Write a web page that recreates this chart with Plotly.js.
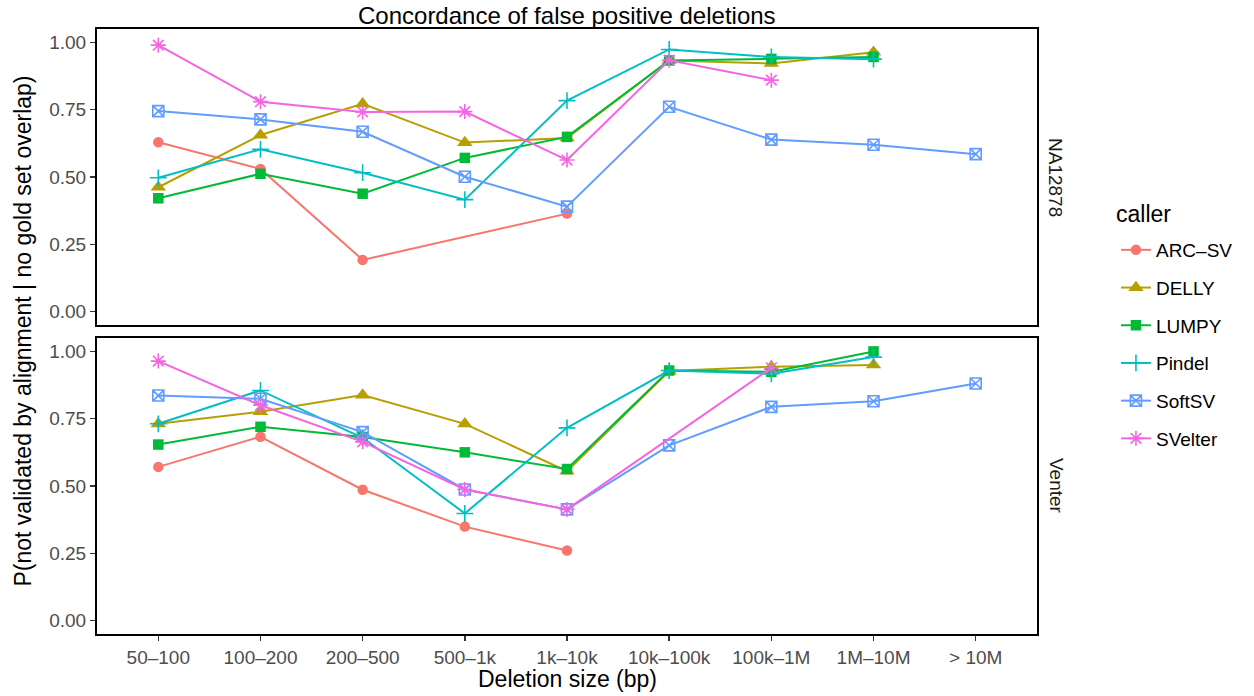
<!DOCTYPE html>
<html>
<head>
<meta charset="utf-8">
<script src="https://cdn.plot.ly/plotly-3.0.1.min.js"></script>
<style>html,body{margin:0;padding:0;background:#fff;}#chart{width:1254px;height:696px;}</style>
</head>
<body>
<div id="chart"></div>
<script>
// Categories (x axis)
const categories = ["50\u2013100","100\u2013200","200\u2013500","500\u20131k","1k\u201310k","10k\u2013100k","100k\u20131M","1M\u201310M","> 10M"];
const callers = ["ARC\u2013SV","DELLY","LUMPY","Pindel","SoftSV","SVelter"];
const yTicks = [0, 0.25, 0.5, 0.75, 1.0];
const yTickLabels = ["0.00","0.25","0.50","0.75","1.00"];
const panels = ["NA12878","Venter"];

// NA12878 panel values
const na_arcsv  = [0.629, 0.530, 0.192, null, 0.364, null, null, null, null];
const na_delly  = [0.462, 0.656, 0.772, 0.628, 0.645, 0.933, 0.922, 0.964, null];
const na_lumpy  = [0.421, 0.512, 0.438, 0.571, 0.649, 0.933, 0.939, 0.946, null];
const na_pindel = [0.497, 0.603, 0.516, 0.416, 0.784, 0.974, 0.946, 0.938, null];
const na_softsv = [0.745, 0.714, 0.668, 0.501, 0.390, 0.761, 0.639, 0.620, 0.585];
const na_svelter= [0.990, 0.780, 0.742, 0.743, 0.563, 0.934, 0.860, null, null];

// Venter panel values
const ve_arcsv  = [0.571, 0.683, 0.486, 0.349, 0.260, null, null, null, null];
const ve_delly  = [0.731, 0.776, 0.838, 0.731, 0.555, 0.927, 0.943, 0.950, null];
const ve_lumpy  = [0.654, 0.720, 0.682, 0.625, 0.563, 0.929, 0.924, 1.000, null];
const ve_pindel = [0.731, 0.855, 0.679, 0.398, 0.716, 0.929, 0.917, 0.979, null];
const ve_softsv = [0.836, 0.824, 0.700, 0.487, 0.413, 0.651, 0.794, 0.815, 0.881];
const ve_svelter= [0.964, 0.800, 0.664, 0.487, 0.413, null, 0.939, null, null];

const naData = [na_arcsv, na_delly, na_lumpy, na_pindel, na_softsv, na_svelter];
const veData = [ve_arcsv, ve_delly, ve_lumpy, ve_pindel, ve_softsv, ve_svelter];

const colors = ["#F8766D","#B79F00","#00BA38","#00BFC4","#619CFF","#F564E3"];
const markers = [
  {symbol:"circle", size:10.5, line:{width:0}},
  {symbol:"triangle-up", size:13.5, line:{width:0}},
  {symbol:"square", size:10.5, line:{width:0}},
  {symbol:"cross-thin-open", size:12, line:{width:1.6}},
  {symbol:"square-x-open", size:11, line:{width:1.6}},
  {symbol:"asterisk-open", size:12.5, line:{width:1.6}}
];

const traces = [];
function addPanel(data, xa, ya, showLeg){
  data.forEach((vals, i) => {
    const m = Object.assign({color: colors[i]}, markers[i]);
    m.line = Object.assign({color: colors[i]}, markers[i].line);
    traces.push({
      type: "scatter", mode: "lines+markers",
      x: categories, y: vals, xaxis: xa, yaxis: ya,
      name: callers[i], legendgroup: callers[i], showlegend: showLeg,
      connectgaps: true,
      line: {color: colors[i], width: 2},
      marker: m,
      hoverinfo: "x+y+name"
    });
  });
}
addPanel(naData, "x", "y", true);
addPanel(veData, "x2", "y2", false);

const tickFont = {family: "Liberation Sans, Arial, sans-serif", size: 19, color: "#4d4d4d"};
const yAxisBase = {
  range: [-0.05, 1.05], tickvals: yTicks, ticktext: yTickLabels,
  showgrid: false, zeroline: false,
  showline: true, mirror: true, linecolor: "#000", linewidth: 2,
  ticks: "outside", ticklen: 5, tickwidth: 1.5, tickcolor: "#333",
  tickfont: tickFont
};
const xAxisBase = {
  type: "category", categoryorder: "array", categoryarray: categories,
  range: [-0.6, 8.6], showgrid: false, zeroline: false,
  showline: true, mirror: true, linecolor: "#000", linewidth: 2,
  tickfont: tickFont
};

const layout = {
  width: 1254, height: 696,
  margin: {l: 97, r: 217, t: 29, b: 62},
  paper_bgcolor: "#fff", plot_bgcolor: "#fff",
  font: {family: "Liberation Sans, Arial, sans-serif", color: "#000"},
  xaxis: Object.assign({}, xAxisBase, {anchor: "y", domain: [0,1], showticklabels: false, ticks: ""}),
  yaxis: Object.assign({}, yAxisBase, {anchor: "x", domain: [0.5107, 1]}),
  xaxis2: Object.assign({}, xAxisBase, {anchor: "y2", domain: [0,1], ticks: "outside", ticklen: 5, tickwidth: 1.5, tickcolor: "#333"}),
  yaxis2: Object.assign({}, yAxisBase, {anchor: "x2", domain: [0, 0.4893]}),
  showlegend: true,
  legend: {
    x: 1.084, xanchor: "left", y: (634-231)/605, yanchor: "top",
    font: {size: 19, color: "#000"},
    tracegroupgap: 10, traceorder: "grouped", itemwidth: 30,
    bgcolor: "rgba(0,0,0,0)"
  },
  annotations: [
    {text: "Concordance of false positive deletions", xref: "paper", yref: "paper",
     x: 0.5, y: 1 + (29-16)/605, xanchor: "center", yanchor: "middle", showarrow: false,
     font: {size: 24, color: "#000"}},
    {text: "Deletion size (bp)", xref: "paper", yref: "paper",
     x: 0.5, y: (634-679)/605, xanchor: "center", yanchor: "middle", showarrow: false,
     font: {size: 23, color: "#000"}},
    {text: "P(not validated by alignment | no gold set overlap)", xref: "paper", yref: "paper",
     x: (22-97)/940, y: 0.5, xanchor: "center", yanchor: "middle", textangle: -90, showarrow: false,
     font: {size: 23, color: "#000"}},
    {text: "caller", xref: "paper", yref: "paper",
     x: (1114-97)/940, y: (634-214)/605, xanchor: "left", yanchor: "middle", showarrow: false,
     font: {size: 23, color: "#000"}},
    {text: panels[0], xref: "paper", yref: "paper",
     x: (1056-97)/940, y: (0.5107+1)/2, xanchor: "center", yanchor: "middle", textangle: 90, showarrow: false,
     font: {size: 19, color: "#1a1a1a"}},
    {text: panels[1], xref: "paper", yref: "paper",
     x: (1056-97)/940, y: 0.4893/2, xanchor: "center", yanchor: "middle", textangle: 90, showarrow: false,
     font: {size: 19, color: "#1a1a1a"}}
  ]
};

Plotly.newPlot("chart", traces, layout, {displayModeBar: false, staticPlot: true});
</script>
</body>
</html>
